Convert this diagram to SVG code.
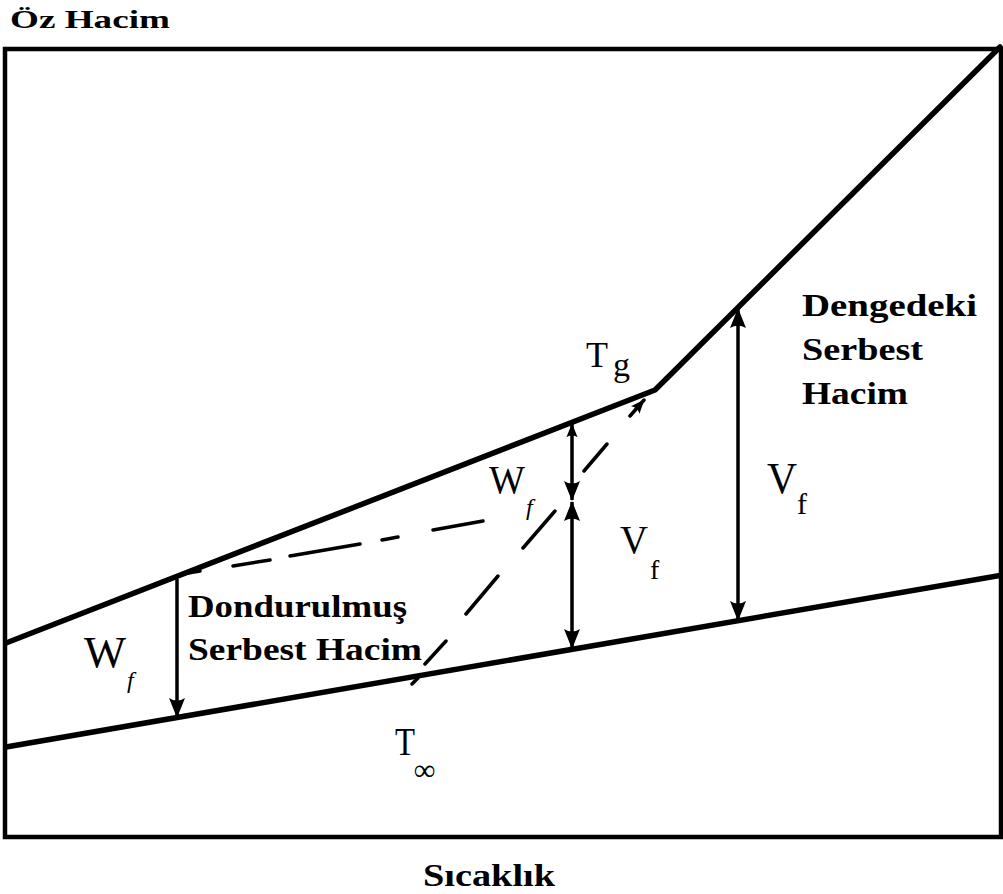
<svg xmlns="http://www.w3.org/2000/svg" width="1003" height="894" viewBox="0 0 1003 894">
<style>
.lbl{font-family:"Liberation Serif",serif;font-weight:bold;fill:#000}
.sym{font-family:"Liberation Serif",serif;fill:#000}
.main{stroke:#000;stroke-width:5.5;fill:none;stroke-linecap:round;stroke-linejoin:round}
.dim{stroke:#000;stroke-width:3.5;fill:none}
.dash{stroke:#000;stroke-width:3.5;fill:none;stroke-linecap:round}
</style>
<defs>
<marker id="ah" viewBox="0 0 20 20" refX="19" refY="10" markerWidth="20" markerHeight="20" markerUnits="userSpaceOnUse" orient="auto-start-reverse">
<path d="M0,2 L20,10 L0,18 Q5,10 0,2 Z" fill="#000"/>
</marker>
<marker id="ahs" viewBox="0 0 20 20" refX="19" refY="10" markerWidth="14" markerHeight="14" markerUnits="userSpaceOnUse" orient="auto-start-reverse">
<path d="M0,2 L20,10 L0,18 Q5,10 0,2 Z" fill="#000"/>
</marker>
</defs>
<rect width="1003" height="894" fill="#fff"/>
<g id="frame">
<rect x="5" y="49" width="996" height="788" fill="none" stroke="#000" stroke-width="4.5"/>
</g>
<g id="curves">
<polyline class="main" points="6,643 655,390 1000,47"/>
<line class="main" x1="6" y1="747" x2="1003" y2="575"/>
</g>
<g id="connectors">
<line class="dim" x1="177" y1="579" x2="177" y2="717" marker-end="url(#ah)"/>
<line class="dim" x1="572" y1="424" x2="572" y2="500" marker-start="url(#ahs)" marker-end="url(#ah)"/>
<line class="dim" x1="572" y1="502" x2="572" y2="648" marker-start="url(#ah)" marker-end="url(#ah)"/>
<line class="dim" x1="738" y1="309" x2="738" y2="620" marker-start="url(#ah)" marker-end="url(#ah)"/>
<path class="dash" d="M182,574 L200,571 M233,566 L270,560 M290,556 L360,544 M382,540 L398,537 M433,530 L483,521"/>
<path class="dash" d="M412,684 L418,678 M425,664 L446,641 M466,614 L498,576 M523,548 L555,511 M584,471 L607,444 M630,416 L644,400" marker-end="url(#ahs)"/>
</g>
<g id="axis-y"><text class="lbl" x="10" y="28" font-size="26" textLength="160" lengthAdjust="spacingAndGlyphs">Öz Hacim</text></g>
<g id="axis-x"><text class="lbl" x="423" y="886" font-size="32" textLength="132" lengthAdjust="spacingAndGlyphs">Sıcaklık</text></g>
<g id="label-tg"><text class="sym" x="586" y="367" font-size="36">T</text><text class="sym" x="613" y="376" font-size="34">g</text></g>
<g id="label-dengedeki">
<text class="lbl" x="802" y="316" font-size="32" textLength="175" lengthAdjust="spacingAndGlyphs">Dengedeki</text>
<text class="lbl" x="802" y="360" font-size="32" textLength="121" lengthAdjust="spacingAndGlyphs">Serbest</text>
<text class="lbl" x="802" y="404" font-size="32" textLength="106" lengthAdjust="spacingAndGlyphs">Hacim</text>
</g>
<g id="label-dondurulmus">
<text class="lbl" x="188" y="617" font-size="31" textLength="219" lengthAdjust="spacingAndGlyphs">Dondurulmuş</text>
<text class="lbl" x="188" y="660" font-size="31" textLength="234" lengthAdjust="spacingAndGlyphs">Serbest Hacim</text>
</g>
<g id="label-wf-left"><text class="sym" x="84" y="667" font-size="44" textLength="42" lengthAdjust="spacingAndGlyphs">W</text><text class="sym" x="127" y="688" font-size="24" font-style="italic">f</text></g>
<g id="label-wf-mid"><text class="sym" x="489" y="493" font-size="40" textLength="36" lengthAdjust="spacingAndGlyphs">W</text><text class="sym" x="526" y="515" font-size="24" font-style="italic">f</text></g>
<g id="label-vf-mid"><text class="sym" x="620" y="553" font-size="40" textLength="28" lengthAdjust="spacingAndGlyphs">V</text><text class="sym" x="650" y="579" font-size="28">f</text></g>
<g id="label-vf-right"><text class="sym" x="767" y="493" font-size="44" textLength="30" lengthAdjust="spacingAndGlyphs">V</text><text class="sym" x="797" y="514" font-size="30">f</text></g>
<g id="label-tinf"><text class="sym" x="395" y="755" font-size="40" textLength="20" lengthAdjust="spacingAndGlyphs">T</text><text class="sym" x="414" y="780" font-size="30" font-weight="bold">∞</text></g>
</svg>
